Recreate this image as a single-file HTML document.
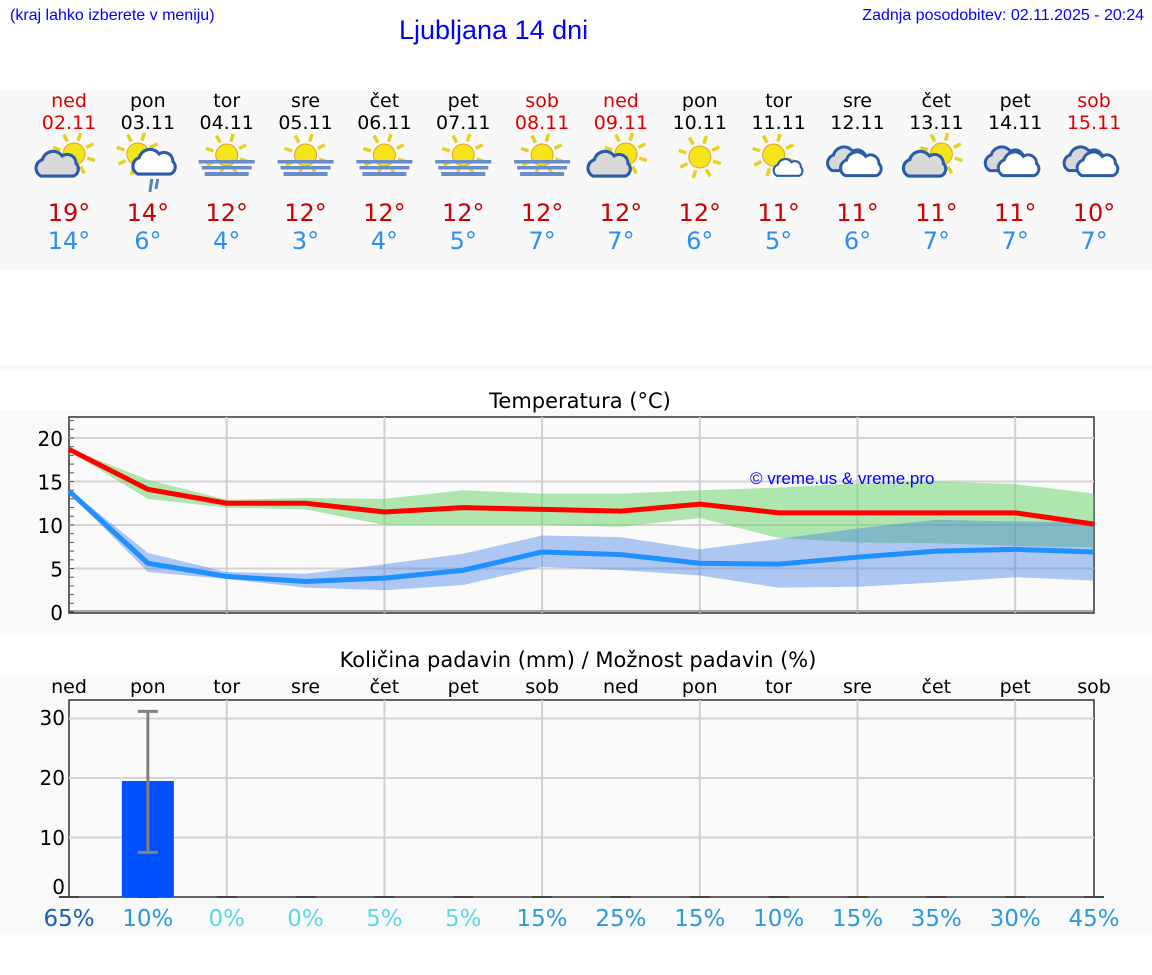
<!DOCTYPE html>
<html><head><meta charset="utf-8"><style>
body{margin:0;width:1152px;height:975px;background:#fff;font-family:"DejaVu Sans","Liberation Sans",sans-serif;overflow:hidden;position:relative}
.a{position:absolute}
</style></head><body>
<div class="a" style="left:10px;top:7px;font:16px 'Liberation Sans',sans-serif;color:#00f">(kraj lahko izberete v meniju)</div>
<div class="a" style="left:399px;top:15px;font:27px 'Liberation Sans',sans-serif;color:#00f">Ljubljana 14 dni</div>
<div class="a" style="right:8px;top:7px;font:16px 'Liberation Sans',sans-serif;color:#00f">Zadnja posodobitev: 02.11.2025 - 20:24</div>
<div class="a" style="left:0;top:90px;width:1152px;height:180px;background:#f8f8f8"></div>
<div class="a" style="left:0;top:365px;width:1152px;height:5px;background:#f8f8f8"></div>
<div class="a" style="left:0;top:410px;width:1152px;height:225px;background:#f9f9f9"></div>
<div class="a" style="left:0;top:675px;width:1152px;height:260px;background:#f9f9f9"></div>
<svg id="s" class="a" style="left:0;top:0" width="1152" height="975" xmlns="http://www.w3.org/2000/svg"></svg>
<script>
const X=i=>69+i*78.85;
const days=["ned","pon","tor","sre","čet","pet","sob","ned","pon","tor","sre","čet","pet","sob"];
const dates=["02.11","03.11","04.11","05.11","06.11","07.11","08.11","09.11","10.11","11.11","12.11","13.11","14.11","15.11"];
const red=[0,6,7,13];
const hi=[19,14,12,12,12,12,12,12,12,11,11,11,11,10],lo=[14,6,4,3,4,5,7,7,6,5,6,7,7,7];
const icons=[0,1,2,2,2,2,2,0,3,4,5,0,5,5];
let h='';
const T=(x,y,s,sz,c,a='middle',f='DejaVu Sans')=>`<text x="${x}" y="${y}" font-size="${sz}" fill="${c}" text-anchor="${a}" font-family="${f},Liberation Sans,sans-serif">${s}</text>`;
function sun(cx,cy,r){let s='';for(let k=0;k<8;k++){let a=k*Math.PI/4+0.3;s+=`<line x1="${cx+Math.cos(a)*(r+3)}" y1="${cy+Math.sin(a)*(r+3)}" x2="${cx+Math.cos(a)*(r+11)}" y2="${cy+Math.sin(a)*(r+11)}" stroke="#e8d020" stroke-width="3.5"/>`}
return s+`<circle cx="${cx}" cy="${cy}" r="${r}" fill="#f4e41a" stroke="#e8a020" stroke-width="1"/>`}
function cloud(cx,cy,sc,fill){return `<g transform="translate(${cx},${cy}) scale(${sc})"><path d="M-16,8 a7,7 0 0 1 1,-13 a9,9 0 0 1 16,-3 a7,7 0 0 1 11,6 a6,6 0 0 1 -2,10 z" fill="${fill}" stroke="#2a5caa" stroke-width="2.5"/></g>`}
for(let i=0;i<14;i++){
 const cx=X(i);const col=red.includes(i)?'#d00':'#000';
 h+=T(cx,107,days[i],19,col)+T(cx,129,dates[i],19,col);
 h+=T(cx,221,hi[i]+'°',24,'#c00')+T(cx,249,lo[i]+'°',24,'#2a90f0');
 const t=icons[i],y=160;
 if(t==0){h+=sun(cx+5,y-6,11)+cloud(cx-8,y+6,1.25,'#d8d8d8')}
 else if(t==1){h+=sun(cx-10,y-6,11)+cloud(cx+10,y+4,1.25,'#fff')+`<line x1="${cx+4}" y1="${y+19}" x2="${cx+2}" y2="${y+32}" stroke="#5a80c0" stroke-width="3"/><line x1="${cx+10}" y1="${y+19}" x2="${cx+8}" y2="${y+29}" stroke="#5a80c0" stroke-width="3"/>`}
 else if(t==2){h+=sun(cx,y-5,11)+`<rect x="${cx-28}" y="${y}" width="56" height="3.5" fill="#6a8cc8"/><rect x="${cx-25}" y="${y+6}" width="50" height="3.5" fill="#6a8cc8"/><rect x="${cx-22}" y="${y+12}" width="44" height="4" fill="#6a8cc8"/>`}
 else if(t==3){h+=sun(cx,y-3,11)}
 else if(t==4){h+=sun(cx-5,y-5,11)+cloud(cx+12,y+9,0.85,'#fff')}
 else {h+=cloud(cx-6,y+1,1.2,'#d8d8d8')+cloud(cx+7,y+6,1.2,'#fff')}
}
const P=(v)=>612-v*8.7;
const L=69,R=1094;
h+=`<rect x="${L}" y="417" width="${R-L}" height="196" fill="#fafafa" stroke="#333" stroke-width="1.5"/>`;
[5,10,15,20].forEach(v=>h+=`<line x1="${L}" x2="${R}" y1="${P(v)}" y2="${P(v)}" stroke="#d4d4d4" stroke-width="2"/>`);
[2,4,6,8,10,12].forEach(i=>h+=`<line x1="${X(i)}" x2="${X(i)}" y1="417" y2="613" stroke="#d0d0d0" stroke-width="2"/>`);
for(let v=0;v<=22;v++)h+=`<line x1="${L}" x2="${L+5}" y1="${P(v)}" y2="${P(v)}" stroke="#555"/>`;
[0,5,10,15,20].forEach(v=>h+=T(63,P(v)+8,v,20,'#000','end'));
h+=T(580,408,'Temperatura (°C)',21,'#000');
const gu=[18.8,15.2,12.9,13.1,13.0,14.0,13.6,13.6,14.0,14.3,14.8,15.0,14.7,13.6],gl=[18.5,13.0,12.0,11.8,10.0,10.0,10.0,9.8,10.8,8.5,8.0,7.9,7.6,7.4];
const bu=[14.1,6.8,4.6,4.4,5.5,6.7,8.8,8.6,7.2,8.4,9.6,10.6,10.4,10.3],bl=[13.7,4.6,3.8,2.8,2.5,3.1,5.2,4.8,4.2,2.8,2.9,3.4,4.0,3.6];
const band=(u,l,c)=>{let p=u.map((v,i)=>X(i)+','+P(v));for(let i=13;i>=0;i--)p.push(X(i)+','+P(l[i]));return `<polygon points="${p.join(' ')}" fill="${c}"/>`};
h+=band(gu,gl,'rgba(100,210,100,0.5)')+band(bu,bl,'rgba(60,120,230,0.4)');
const rl=[18.7,14.1,12.5,12.5,11.5,12.0,11.8,11.6,12.4,11.4,11.4,11.4,11.4,10.1],bll=[13.9,5.6,4.1,3.5,3.9,4.8,6.9,6.6,5.6,5.5,6.3,7.0,7.2,6.9];
const line=(a,c)=>`<polyline points="${a.map((v,i)=>X(i)+','+P(v)).join(' ')}" fill="none" stroke="${c}" stroke-width="5"/>`;
h+=line(bll,'#1e90ff')+line(rl,'#f00');
h+=`<line x1="${L}" x2="${R}" y1="611" y2="611" stroke="#555"/>`;
h+=T(750,484,'© vreme.us &amp; vreme.pro',17,'#00f','start','Liberation Sans');
const Q=v=>897-v*5.95;
h+=T(578,667,'Količina padavin (mm) / Možnost padavin (%)',21,'#000');
h+=`<rect x="${L}" y="700" width="${R-L}" height="197" fill="#fafafa" stroke="#333" stroke-width="1.5"/>`;
[10,20,30].forEach(v=>h+=`<line x1="${L}" x2="${R}" y1="${Q(v)}" y2="${Q(v)}" stroke="#d4d4d4" stroke-width="2"/>`);
[2,4,6,8,10,12].forEach(i=>h+=`<line x1="${X(i)}" x2="${X(i)}" y1="700" y2="897" stroke="#d0d0d0" stroke-width="2"/>`);
[[0,894],[10,845],[20,785],[30,725]].forEach(([v,y])=>h+=T(65,y,v,20,'#000','end'));
const pc=["65%","10%","0%","0%","5%","5%","15%","25%","15%","10%","15%","35%","30%","45%"];
const pcol=["#1a5fb4","#2a9ad8","#5ad8e8","#5ad8e8","#5ad8e8","#5ad8e8","#2a9ad8","#2a9ad8","#2a9ad8","#2a9ad8","#2a9ad8","#2a9ad8","#2a9ad8","#2a9ad8"];
for(let i=0;i<14;i++){h+=T(X(i),693,days[i],19,'#000')+T(X(i),926,pc[i],23,pcol[i]);
 h+=`<line x1="${X(i)-10}" x2="${X(i)+10}" y1="897" y2="897" stroke="#444" stroke-width="2"/>`}
h+=`<rect x="${X(1)-26}" y="${Q(19.5)}" width="52" height="${897-Q(19.5)}" fill="#0050ff"/>`;
h+=`<line x1="${X(1)}" x2="${X(1)}" y1="${Q(31.2)}" y2="${Q(7.5)}" stroke="#808080" stroke-width="3"/><line x1="${X(1)-10}" x2="${X(1)+10}" y1="${Q(31.2)}" y2="${Q(31.2)}" stroke="#808080" stroke-width="3"/><line x1="${X(1)-10}" x2="${X(1)+10}" y1="${Q(7.5)}" y2="${Q(7.5)}" stroke="#808080" stroke-width="3"/>`;
document.getElementById('s').innerHTML=h;
</script>
</body></html>
